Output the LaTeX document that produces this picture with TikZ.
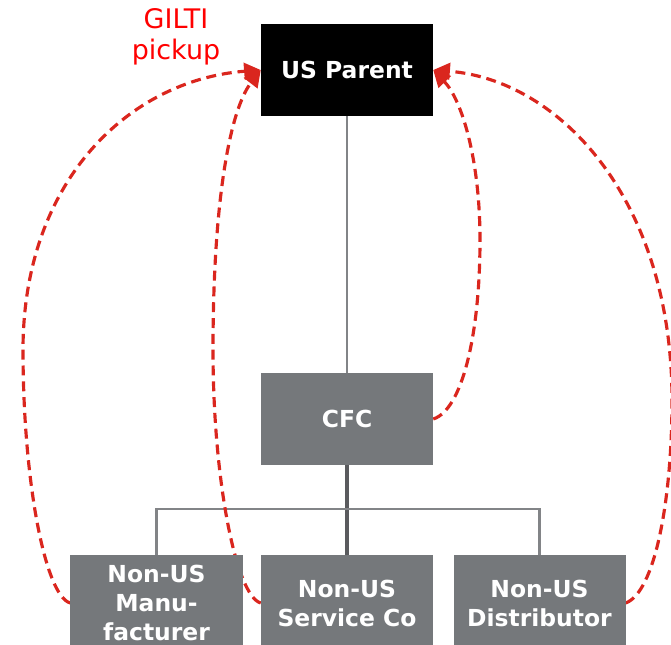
\documentclass[tikz,border=0pt]{standalone}
\usepackage{fontspec}
\setmainfont{DejaVu Sans}
\usetikzlibrary{arrows.meta,backgrounds}

\definecolor{boxgray}{RGB}{117,120,123}
\definecolor{linegray}{RGB}{130,132,135}
\definecolor{stemgray}{RGB}{90,91,94}
\definecolor{giltired}{RGB}{218,38,30}

\tikzset{
  entity/.style={minimum width=5.16cm, minimum height=2.76cm, inner sep=0pt,
    text=white, align=center, font=\fontsize{20}{24.7}\selectfont\bfseries},
  sub/.style={entity, fill=boxgray},
  own/.style={draw=linegray, line width=2.3pt},
  gilti/.style={draw=giltired, line width=2.7pt, dash pattern=on 8.5pt off 5pt,
    -{Triangle[length=0.5cm,width=0.5cm]}},
}

\begin{document}
\begin{tikzpicture}[x=0.03cm,y=-0.03cm]
      \clip (0,0) rectangle (671,645);
      \useasboundingbox (0,0) rectangle (671,645);

      \node[entity, fill=black] (parent) at (347,70) {US Parent};
      \node[sub] (cfc) at (347,419) {CFC};
      \node[sub, minimum height=2.88cm] (manu) at (156.5,603) {Non-US\\Manu-\\facturer};
      \node[sub, minimum height=2.88cm] (service) at (347,603) {Non-US\\Service Co};
      \node[sub, minimum height=2.88cm] (dist) at (539.5,603) {Non-US\\Distributor};
      \node[text=red, align=center, font=\fontsize{23}{26}\selectfont] (label) at (176,37) {GILTI\\pickup};
      \coordinate (bus) at (347,509);

      \begin{scope}[on background layer]
        % ownership lines
        \draw[own] (parent.south) -- (cfc.north);
        \draw[own, draw=stemgray, line width=2.8pt] (cfc.south) -- (service.north);
        \draw[own] (manu.north) |- (bus) -| (dist.north);

        % income flowing back up
        \draw[gilti] (manu.west) .. controls (45,596) and (23,480) .. (23,350)
          .. controls (23,180) and (130,80) .. (parent.west);
        \draw[gilti] (service.west) .. controls (236,596) and (213,480) .. (213,350)
          .. controls (213,200) and (230,110) .. (parent.west);
        \draw[gilti] (cfc.east) .. controls (462,410) and (480,335) .. (480,240)
          .. controls (480,160) and (462,100) .. (parent.east);
        \draw[gilti] (dist.east) .. controls (655,592) and (672,500) .. (672,400)
          .. controls (672,200) and (560,80) .. (parent.east);
      \end{scope}
    \end{tikzpicture}
\end{document}
